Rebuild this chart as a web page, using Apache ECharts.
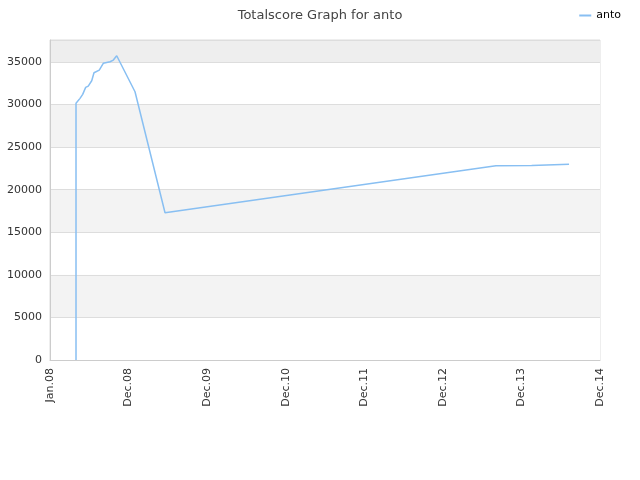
<!DOCTYPE html>
<html><head><meta charset="utf-8">
<script src="https://cdn.jsdelivr.net/npm/echarts@6/dist/echarts.min.js"></script>
<style>html,body{margin:0;padding:0;background:#fff}#c{width:640px;height:480px}</style>
</head><body><div id="c"></div>
<script>
const tickLabels = ['Jan.08','Dec.08','Dec.09','Dec.10','Dec.11','Dec.12','Dec.13','Dec.14'];
const xPos = [0.331,0.331,0.382,0.416,0.454,0.487,0.531,0.560,0.627,0.678,0.764,0.806,0.849,0.869,1.082,1.464,5.676,6.130,6.150,6.606];
const scores = [0,30150,30735,31206,32029,32181,32804,33744,34060,34847,35035,35235,35740,35800,31512,17300,22820,22840,22980,22990];
const seriesName = 'anto';

const data = xPos.map((x,i)=>[x,scores[i]]);
const chart = echarts.init(document.getElementById('c'));
const font = 'DejaVu Sans';
chart.setOption({
  animation:false,
  title:{text:'Totalscore Graph for anto',left:'center',top:4,textStyle:{fontFamily:font,fontSize:13,fontWeight:'normal',color:'#444'}},
  legend:{right:14,top:5,itemWidth:12,itemHeight:2,icon:'rect',textStyle:{fontFamily:font,fontSize:11,color:'#000'},data:[seriesName]},
  grid:{left:50,right:40,top:40,bottom:120,show:true,borderColor:'#ddd',borderWidth:1},
  xAxis:{type:'value',min:0,max:7,interval:1,
    axisLine:{lineStyle:{color:'#ccc'}},axisTick:{show:false},splitLine:{show:false},
    axisLabel:{rotate:90,fontFamily:font,fontSize:11,color:'#333',margin:8,formatter:v=>tickLabels[Math.round(v)]||''}},
  yAxis:{type:'value',min:0,max:37590,interval:5000,
    axisLine:{show:true,lineStyle:{color:'#ccc'}},axisTick:{show:false},
    splitLine:{show:true,lineStyle:{color:'#ddd'}},
    splitArea:{show:true,areaStyle:{color:['#fff','#f3f3f3','#fff','#f3f3f3','#fff','#f3f3f3','#fff','#eee']}},
    axisLabel:{fontFamily:font,fontSize:11,color:'#333',margin:8,showMaxLabel:false,formatter:v=>String(v)}},
  series:[{name:seriesName,type:'line',data:data,showSymbol:false,symbol:'none',
    lineStyle:{color:'#88bff2',width:1.5},itemStyle:{color:'#88bff2'}}]
});
</script></body></html>
